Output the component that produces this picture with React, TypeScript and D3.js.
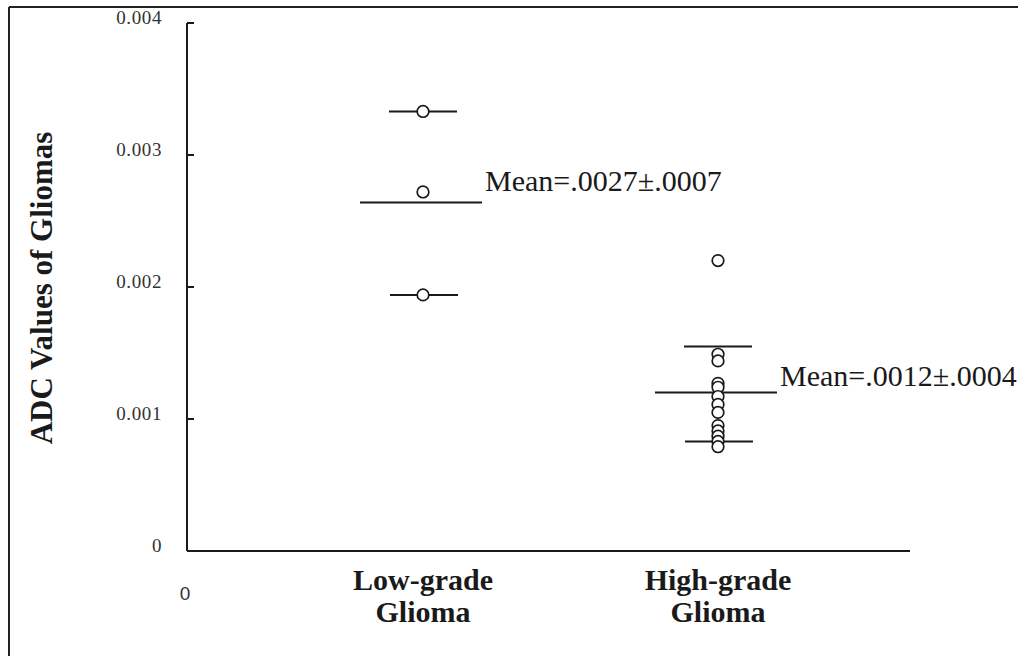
import React from "react";
import * as d3 from "d3";

const categories = ["Low-grade", "High-grade"];
const categoryLines = [["Low-grade", "Glioma"], ["High-grade", "Glioma"]];
const lowGradeValues = [0.00333, 0.00272, 0.00194];
const highGradeValues = [
  0.0022, 0.00149, 0.00144, 0.00127, 0.00124, 0.00117, 0.00111, 0.00105,
  0.00095, 0.00091, 0.00087, 0.00083, 0.00079,
];
const seriesValues = [lowGradeValues, highGradeValues];
const meanValues = [0.00264, 0.0012];
const upperValues = [0.00333, 0.00155];
const lowerValues = [0.00194, 0.00083];
const meanLabels = ["Mean=.0027\u00B1.0007", "Mean=.0012\u00B1.0004"];
const yTicks = [0, 0.001, 0.002, 0.003, 0.004];
const yTickLabels = ["0", "0.001", "0.002", "0.003", "0.004"];
const yTitle = "ADC Values of Gliomas";
const xOriginLabel = "0";

const W = 1018;
const H = 656;
const plotLeft = 187;
const plotRight = 910;
const plotTop = 23;
const plotBottom = 551;

export default function App() {
  const y = d3.scaleLinear().domain([0, 0.004]).range([plotBottom, plotTop]);
  const x = d3
    .scalePoint<string>()
    .domain(categories)
    .range([plotLeft + 236, plotLeft + 531]);
  const serif = "'Liberation Serif', 'Times New Roman', serif";
  const ink = "#1a1a1a";

  return (
    <svg
      width={W}
      height={H}
      style={{ position: "absolute", left: 0, top: 0, background: "#fff" }}
    >
      <rect x={0} y={0} width={W} height={H} fill="#fff" />
      {/* frame */}
      <line x1={9} y1={7} x2={W} y2={7} stroke="#222" strokeWidth={2} />
      <line x1={9} y1={7} x2={9} y2={H} stroke="#222" strokeWidth={2} />

      {/* y axis */}
      <line x1={plotLeft} y1={y(0.004)} x2={plotLeft} y2={y(0)} stroke={ink} strokeWidth={2} />
      {yTicks.map((t, i) => (
        <g key={"t" + i}>
          {t > 0 && (
            <line x1={plotLeft} x2={plotLeft + 7} y1={y(t)} y2={y(t)} stroke={ink} strokeWidth={2} />
          )}
          <text
            x={162}
            y={y(t)}
            dy="0.05em"
            textAnchor="end"
            fontFamily={serif}
            fontSize={19}
            letterSpacing={0.6}
            fill="#333"
          >
            {yTickLabels[i]}
          </text>
        </g>
      ))}
      {/* x axis */}
      <line x1={plotLeft} y1={y(0)} x2={plotRight} y2={y(0)} stroke={ink} strokeWidth={2} />
      <text
        x={185}
        y={600}
        textAnchor="middle"
        fontFamily="'Liberation Sans', Arial, sans-serif"
        fontSize={19}
        fill="#333"
      >
        {xOriginLabel}
      </text>

      {/* y title */}
      <text
        transform={`translate(52, 288) rotate(-90)`}
        textAnchor="middle"
        fontFamily={serif}
        fontWeight="bold"
        fontSize={31}
        fill={ink}
      >
        {yTitle}
      </text>

      {/* category labels */}
      {categories.map((c, i) => (
        <text
          key={"c" + i}
          x={x(c)}
          textAnchor="middle"
          fontFamily={serif}
          fontWeight="bold"
          fontSize={30}
          fill={ink}
        >
          <tspan x={x(c)} y={590}>{categoryLines[i][0]}</tspan>
          <tspan x={x(c)} y={622}>{categoryLines[i][1]}</tspan>
        </text>
      ))}

      {/* mean and SD lines */}
      {categories.map((c, i) => {
        const cx = x(c) as number;
        return (
          <g key={"m" + i}>
            <line x1={cx - 63} x2={cx + 59} y1={y(meanValues[i])} y2={y(meanValues[i])} stroke={ink} strokeWidth={2} />
            <line x1={cx - 34} x2={cx + 34} y1={y(upperValues[i])} y2={y(upperValues[i])} stroke={ink} strokeWidth={2} />
            <line x1={cx - 33} x2={cx + 35} y1={y(lowerValues[i])} y2={y(lowerValues[i])} stroke={ink} strokeWidth={2} />
            <text
              x={cx + 62}
              y={y(meanValues[i]) - (i === 0 ? 12 : 7)}
              fontFamily={serif}
              fontSize={30}
              fill={ink}
            >
              {meanLabels[i]}
            </text>
          </g>
        );
      })}

      {/* points */}
      {seriesValues.map((vals, i) =>
        vals.map((v, j) => (
          <circle
            key={`p${i}-${j}`}
            cx={x(categories[i])}
            cy={y(v)}
            r={5.8}
            fill="#fff"
            stroke={ink}
            strokeWidth={1.7}
          />
        ))
      )}
    </svg>
  );
}
